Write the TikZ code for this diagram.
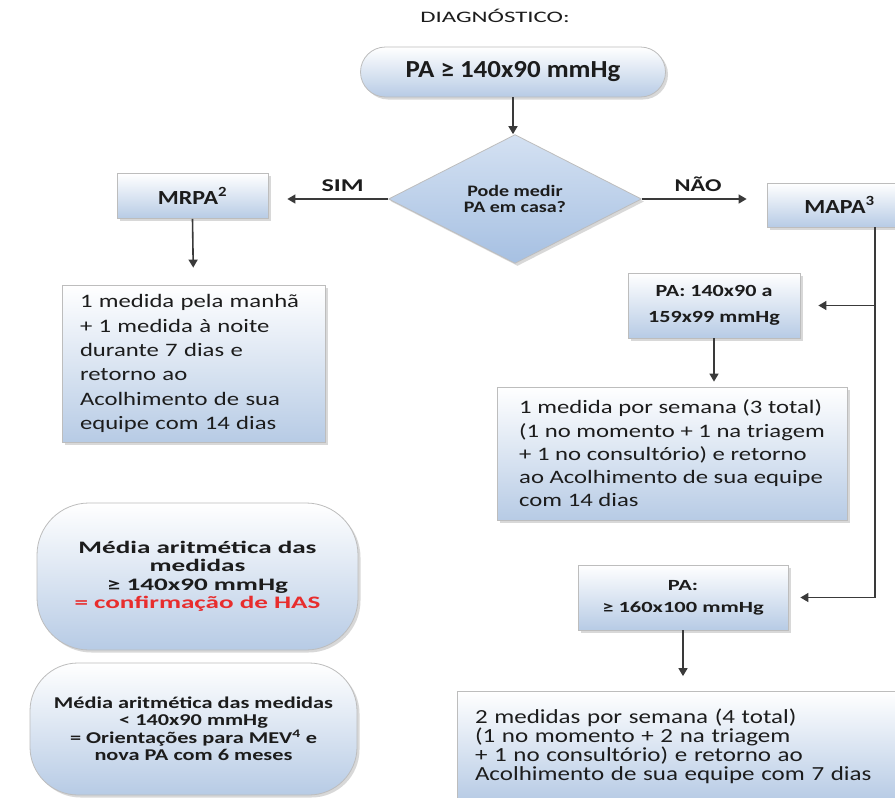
\documentclass[tikz,border=0pt]{standalone}
\usepackage{fontspec}
\setmainfont{Carlito}
% Carlito cut at several horizontal widths
\newfontfamily\fwa{Carlito}[FakeStretch=1.1]
\newfontfamily\fwb{Carlito}[FakeStretch=1.2]
\newfontfamily\fwc{Carlito}[FakeStretch=1.25]
\newfontfamily\fwd{Carlito}[FakeStretch=1.3]
\newfontfamily\fwe{Carlito}[FakeStretch=1.35]
\newfontfamily\fwf{Carlito}[FakeStretch=1.45]
\newfontfamily\fwg{Carlito}[FakeStretch=1.55]
\usetikzlibrary{shapes.geometric,shadows,arrows.meta}

\definecolor{ink}{HTML}{1C1C1C}
\definecolor{wire}{HTML}{3A3A3A}
\definecolor{boxblue}{RGB}{183,203,229}
\definecolor{edgegray}{HTML}{BDBDBD}
\definecolor{diatop}{RGB}{212,225,242}
\definecolor{diabot}{RGB}{166,192,226}
\definecolor{alert}{RGB}{232,45,45}

\begin{document}
\begin{tikzpicture}[x=1pt,y=-1pt,
  panel/.style={draw=edgegray, line width=0.8pt, top color=white, bottom color=boxblue,
    drop shadow={shadow xshift=2.5pt, shadow yshift=-2.5pt, opacity=0.3},
    inner sep=0pt, text=ink},
  pill/.style={panel, rounded corners=#1},
  flow/.style={draw=wire, line width=1.6pt, -{Triangle[length=8pt,width=9pt]}},
  rail/.style={draw=wire, line width=1.6pt},
  tag/.style={text=ink, inner sep=0pt}
]
\clip (0,0) rectangle (895,798);
\fill[white] (0,0) rectangle (895,798);

% heading
\node[tag, font=\fwg\fontsize{16}{19}\selectfont] (head) at (495,16) {DIAGNÓSTICO:};

% start
\node[pill=25pt, minimum width=305pt, minimum height=50pt,
      font=\fwa\fontsize{24.5}{28}\selectfont\bfseries] (start) at (513,72)
      {PA ≥ 140x90 mmHg};

% decision
\node[diamond, draw=edgegray, line width=0.8pt, top color=diatop, bottom color=diabot,
      drop shadow={shadow xshift=2.5pt, shadow yshift=-2.5pt, opacity=0.3},
      minimum width=253pt, minimum height=114pt, inner sep=0pt, align=center, text=ink,
      font=\fwc\fontsize{16}{15.5}\selectfont\bfseries] (ask) at (515,199)
      {Pode medir\\PA em casa?};

% left branch
\node[panel, minimum width=151pt, minimum height=45pt,
      font=\fwb\fontsize{20}{24}\selectfont\bfseries] (mrpa) at (192.5,196)
      {MRPA\textsuperscript{2}};
\node[panel, minimum width=263pt, minimum height=157pt, text width=227pt, align=left,
      font=\fwd\fontsize{19}{24.3}\selectfont] (home) at (193.5,363.5)
      {1 medida pela manhã\\+ 1 medida à noite\\durante 7 dias e\\retorno ao\\Acolhimento de sua\\equipe com 14 dias};

% right branch
\node[panel, minimum width=145pt, minimum height=44pt,
      font=\fwb\fontsize{20}{24}\selectfont\bfseries] (mapa) at (839.5,205)
      {MAPA\textsuperscript{3}};
\coordinate (railx) at (875,0);

\node[panel, minimum width=172pt, minimum height=65pt, align=center,
      font=\fwd\fontsize{17}{26}\selectfont\bfseries] (mid) at (714,305.5)
      {PA: 140x90 a\\159x99 mmHg};
\node[panel, minimum width=350pt, minimum height=133pt, align=left,
      font=\fwd\fontsize{19}{23.3}\selectfont] (week3) at (672,453.5)
      {1 medida por semana (3 total)\\(1 no momento + 1 na triagem\\+ 1 no consultório) e retorno\\ao Acolhimento de sua equipe\\com 14 dias};

\node[panel, minimum width=210pt, minimum height=65pt, align=center,
      font=\fwf\fontsize{15.5}{22}\selectfont\bfseries] (high) at (683,597.5)
      {PA:\\≥ 160x100 mmHg};
\node[panel, minimum width=455pt, minimum height=109pt, text width=419pt, align=left,
      font=\fwc\fontsize{20}{19}\selectfont] (week4) at (684.5,746)
      {2 medidas por semana (4 total)\\(1 no momento + 2 na triagem\\+ 1 no consultório) e retorno ao\\Acolhimento de sua equipe com 7 dias};

% outcomes
\node[pill=52pt, minimum width=321pt, minimum height=147pt, align=center,
      font=\fwg\fontsize{17.5}{18.5}\selectfont\bfseries] (yes) at (197.5,576.5)
      {Média aritmética das\\medidas\\≥ 140x90 mmHg\\\textcolor{alert}{= confirmação de HAS}};
\node[pill=48pt, minimum width=327pt, minimum height=132pt, align=center,
      font=\fwe\fontsize{16.5}{17.5}\selectfont\bfseries] (no) at (193.5,729)
      {Média aritmética das medidas\\< 140x90 mmHg\\= Orientações para MEV\textsuperscript{4} e\\nova PA com 6 meses};

% connectors
\draw[flow] (start.south) -- (start.south |- ask.north);
\draw[flow, shorten >=19pt] (ask.west) -- node[tag, pos=0.38, above=7pt,
      font=\fwf\fontsize{18}{20}\selectfont\bfseries] {SIM} (ask.west -| mrpa.east);
\draw[flow, shorten >=20pt] (ask.east) -- node[tag, pos=0.45, above=7pt,
      font=\fwe\fontsize{18}{20}\selectfont\bfseries] {NÃO} (ask.east -| mapa.west);
\draw[flow, shorten >=17pt] (mrpa.south) -- (home.north);
\draw[rail] (railx |- mapa.south) -- (railx |- high.east);
\draw[flow, shorten >=18pt] (railx |- mid.east) -- (mid.east);
\draw[flow, shorten >=12pt] (railx |- high.east) -- (high.east);
\draw[flow, shorten >=5pt] (mid.south) -- (mid.south |- week3.north);
\draw[flow, shorten >=15pt] (high.south) -- (high.south |- week4.north);
\end{tikzpicture}
\end{document}
